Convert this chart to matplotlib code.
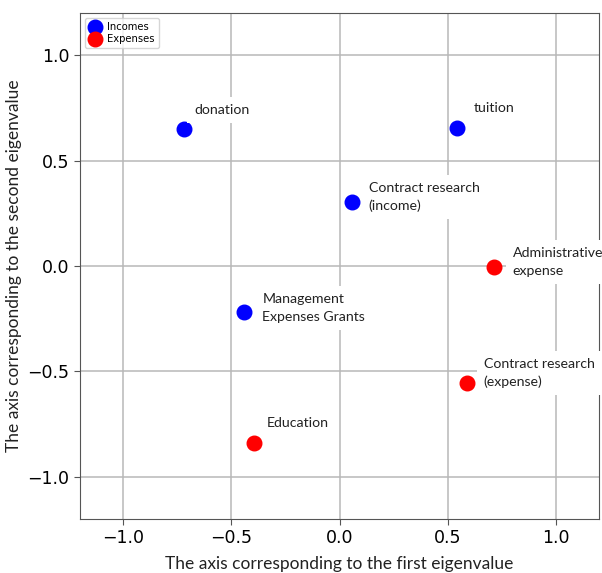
import matplotlib
matplotlib.use("Agg")
import matplotlib.pyplot as plt

# data
income_names = ["donation", "tuition", "Contract research\n(income)", "Management\nExpenses Grants"]
income_x = [-0.718, 0.542, 0.056, -0.44]
income_y = [0.649, 0.654, 0.303, -0.218]

expense_names = ["Administrative\nexpense", "Contract research\n(expense)", "Education"]
expense_x = [0.713, 0.588, -0.394]
expense_y = [-0.005, -0.555, -0.839]

ticks = [-1.0, -0.5, 0.0, 0.5, 1.0]

# label offsets in pixels (dx, dy)
income_offsets = [(10, 19), (17, 20), (17, 5), (18, 4)]
expense_offsets = [(19, 5), (17, 10), (12, 20)]

fig = plt.figure(figsize=(6.02, 5.73), dpi=100)
ax = fig.add_axes([80 / 602, 1 - 519 / 573, 519 / 602, 506 / 573])

ax.scatter(income_x, income_y, s=110, color="blue", label="Incomes", zorder=3)
ax.scatter(expense_x, expense_y, s=110, color="red", label="Expenses", zorder=3)

label_font = "Lato"
for names, xs, ys, offs in [(income_names, income_x, income_y, income_offsets),
                            (expense_names, expense_x, expense_y, expense_offsets)]:
    for name, x, y, (dx, dy) in zip(names, xs, ys, offs):
        ax.annotate(name, (x, y), xytext=(dx, dy), textcoords="offset pixels",
                    ha="left", va="center", fontsize=10.2, family=label_font,
                    color="#222222", zorder=4, linespacing=1.55,
                    bbox=dict(boxstyle="square,pad=0.5", fc="white", ec="none"))

ax.set_xlim(-1.2, 1.2)
ax.set_ylim(-1.2, 1.2)
ax.set_xticks(ticks)
ax.set_yticks(ticks)
ax.tick_params(labelsize=12.5, length=4, color="#555555")
ax.grid(True, color="#b8b8b8", linewidth=1.1, zorder=0)
ax.set_axisbelow(True)
for sp in ax.spines.values():
    sp.set_color("#555555")

ax.set_xlabel("The axis corresponding to the first eigenvalue", fontsize=12.5,
              family=label_font, color="#222222", labelpad=6)
ax.set_ylabel("The axis corresponding to the second eigenvalue", fontsize=12.5,
              family=label_font, color="#222222", labelpad=4)

ax.legend(loc="upper left", fontsize=7.2, markerscale=1.0, handletextpad=0.6,
          borderpad=0.4, labelspacing=0.2, handlelength=1.2, framealpha=0.8)

fig.savefig("out.png", dpi=100)
